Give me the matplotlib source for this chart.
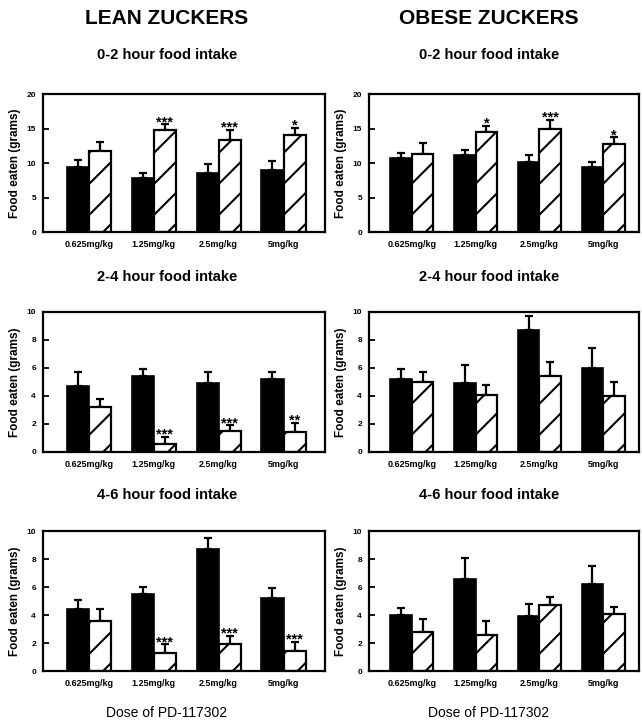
import matplotlib
matplotlib.use("Agg")
import matplotlib.pyplot as plt
import numpy as np

plt.rcParams['font.family'] = ['Liberation Sans', 'DejaVu Sans']

doses = ["0.625mg/kg", "1.25mg/kg", "2.5mg/kg", "5mg/kg"]
columns = ["LEAN ZUCKERS", "OBESE ZUCKERS"]
periods = ["0-2 hour food intake", "2-4 hour food intake", "4-6 hour food intake"]
ylabel = "Food eaten (grams)"
xlabel = "Dose of PD-117302"

# Lean: vehicle (black) and drug (hatched) means and SEM
lean_02_veh = [9.4, 7.8, 8.6, 9.0]
lean_02_veh_sem = [1.1, 0.8, 1.2, 1.3]
lean_02_drug = [11.8, 14.8, 13.4, 14.0]
lean_02_drug_sem = [1.2, 0.8, 1.4, 1.1]
lean_02_stars = ["", "***", "***", "*"]

lean_24_veh = [4.7, 5.4, 4.9, 5.2]
lean_24_veh_sem = [1.0, 0.5, 0.8, 0.5]
lean_24_drug = [3.2, 0.6, 1.5, 1.4]
lean_24_drug_sem = [0.6, 0.5, 0.4, 0.7]
lean_24_stars = ["", "***", "***", "**"]

lean_46_veh = [4.4, 5.5, 8.7, 5.2]
lean_46_veh_sem = [0.7, 0.5, 0.8, 0.7]
lean_46_drug = [3.6, 1.3, 1.9, 1.4]
lean_46_drug_sem = [0.8, 0.6, 0.6, 0.7]
lean_46_stars = ["", "***", "***", "***"]

# Obese
obese_02_veh = [10.7, 11.1, 10.2, 9.4]
obese_02_veh_sem = [0.8, 0.8, 0.9, 0.8]
obese_02_drug = [11.3, 14.5, 15.0, 12.8]
obese_02_drug_sem = [1.6, 0.9, 1.3, 0.9]
obese_02_stars = ["", "*", "***", "*"]

obese_24_veh = [5.2, 4.9, 8.7, 6.0]
obese_24_veh_sem = [0.7, 1.3, 1.0, 1.4]
obese_24_drug = [5.0, 4.1, 5.4, 4.0]
obese_24_drug_sem = [0.7, 0.7, 1.0, 1.0]
obese_24_stars = ["", "", "", ""]

obese_46_veh = [4.0, 6.6, 3.9, 6.2]
obese_46_veh_sem = [0.5, 1.5, 0.9, 1.3]
obese_46_drug = [2.8, 2.6, 4.7, 4.1]
obese_46_drug_sem = [0.9, 1.0, 0.6, 0.5]
obese_46_stars = ["", "", "", ""]

panels = [
    [(lean_02_veh, lean_02_veh_sem, lean_02_drug, lean_02_drug_sem, lean_02_stars),
     (obese_02_veh, obese_02_veh_sem, obese_02_drug, obese_02_drug_sem, obese_02_stars)],
    [(lean_24_veh, lean_24_veh_sem, lean_24_drug, lean_24_drug_sem, lean_24_stars),
     (obese_24_veh, obese_24_veh_sem, obese_24_drug, obese_24_drug_sem, obese_24_stars)],
    [(lean_46_veh, lean_46_veh_sem, lean_46_drug, lean_46_drug_sem, lean_46_stars),
     (obese_46_veh, obese_46_veh_sem, obese_46_drug, obese_46_drug_sem, obese_46_stars)],
]
ymax = [20, 10, 10]
yticks = [[0, 5, 10, 15, 20], [0, 2, 4, 6, 8, 10], [0, 2, 4, 6, 8, 10]]

W, H = 642, 722
fig = plt.figure(figsize=(W / 100, H / 100), dpi=100)

col_x = [(43, 325), (369, 639)]
col_xlim = [(0.29, 4.64), (0.33, 4.56)]
row_y = [(94, 232), (312, 452), (531, 671)]
title_y = [55, 277, 495]
col_center = [167, 489]

bw = 0.34
LW = 1.6


def add_hatch(ax, rect, spacing_px=31):
    # diagonal '/' lines clipped to the bar
    x0, y0 = rect.get_x(), rect.get_y()
    w, h = rect.get_width(), rect.get_height()
    p0 = ax.transData.transform((x0, y0))
    p1 = ax.transData.transform((x0 + w, y0 + h))
    wpx = p1[0] - p0[0]
    hpx = p1[1] - p0[1]
    if hpx <= 0:
        return
    inv = ax.transData.inverted()
    c = -wpx + 8
    while c < hpx:
        a = inv.transform((p0[0], p0[1] + c))
        b = inv.transform((p0[0] + wpx, p0[1] + c + wpx))
        ln, = ax.plot([a[0], b[0]], [a[1], b[1]], color='black', lw=1.5,
                      solid_capstyle='butt', zorder=2.5)
        ln.set_clip_path(rect)
        c += spacing_px


for r in range(3):
    for c in range(2):
        veh, veh_sem, drug, drug_sem, stars = panels[r][c]
        x0, x1 = col_x[c]
        yt, yb = row_y[r]
        ax = fig.add_axes([x0 / W, 1 - yb / H, (x1 - x0) / W, (yb - yt) / H])
        ax.set_xlim(*col_xlim[c])
        ax.set_ylim(0, ymax[r])
        x = np.arange(1, len(doses) + 1)
        b1 = ax.bar(x - bw / 2, veh, bw, color='black', edgecolor='black', lw=1.2, zorder=2)
        b2 = ax.bar(x + bw / 2, drug, bw, color='white', edgecolor='black', lw=LW, zorder=3)
        ax.errorbar(x - bw / 2, veh, yerr=[np.zeros(len(veh)), veh_sem], fmt='none',
                    ecolor='black', elinewidth=LW, capsize=3.2, capthick=LW, zorder=1)
        ax.errorbar(x + bw / 2, drug, yerr=[np.zeros(len(drug)), drug_sem], fmt='none',
                    ecolor='black', elinewidth=LW, capsize=3.2, capthick=LW, zorder=1)
        for rect in b2:
            add_hatch(ax, rect)
        for rect in b2:
            rect.set_zorder(3)
            rect.set_facecolor((1, 1, 1, 0))
        ax.bar(x + bw / 2, drug, bw, color='white', edgecolor='none', zorder=1.9)
        for i, s in enumerate(stars):
            if s:
                ax.annotate(s, (x[i] + bw / 2, drug[i] + drug_sem[i]),
                            xytext=(0, -3.5), textcoords='offset points',
                            ha='center', va='bottom', fontsize=10.5, fontweight='bold',
                            zorder=5)
        ax.set_xticks(x)
        ax.set_xticklabels(doses, fontsize=6.5, fontweight='bold')
        ax.tick_params(axis='x', length=0, pad=6)
        ax.set_yticks(yticks[r])
        ax.set_yticklabels([str(v) for v in yticks[r]], fontsize=6, fontweight='bold')
        ax.tick_params(axis='y', direction='in', length=4, width=1.3, pad=5)
        for sp in ax.spines.values():
            sp.set_linewidth(1.6)
        ax.set_ylabel(ylabel, fontsize=8.5, fontweight='bold', labelpad=4)
        fig.text(col_center[c] / W, 1 - title_y[r] / H, periods[r], ha='center', va='center',
                 fontsize=10.5, fontweight='bold')

for c in range(2):
    fig.text(col_center[c] / W, 1 - 18 / H, columns[c], ha='center', va='center',
             fontsize=15, fontweight='bold')
    fig.text(col_center[c] / W, 1 - 713 / H, xlabel, ha='center', va='center',
             fontsize=10)

fig.savefig("out.png", dpi=100)
